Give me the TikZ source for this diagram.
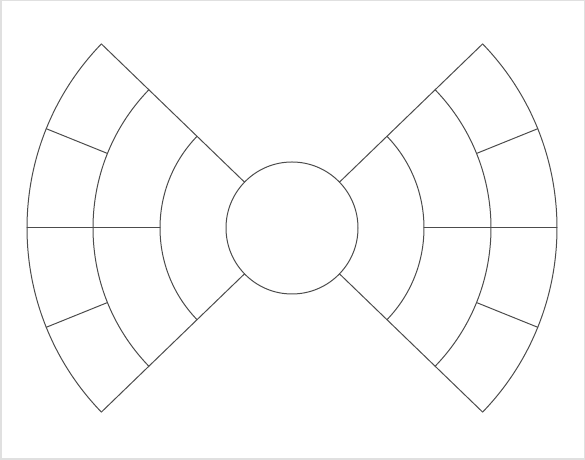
\documentclass[tikz,border=0pt]{standalone}
\usetikzlibrary{calc}
\tikzset{
  fan/.style={
    line width=0.5pt,
    draw=black!70,
    line cap=round,
    line join=round
  },
  frame/.style={draw=black!12, line width=1pt}
}
\begin{document}
\begin{tikzpicture}[x=0.5pt,y=0.5pt]
  \useasboundingbox (0,0) rectangle (585,460);
  \draw[frame] (0.5,0.5) rectangle (584.5,459.5);
  % Bow tie knot
  \coordinate (hub) at (292,232);
  \draw[fan] (hub) circle (66);
  % Rings of both wings
  \foreach \r in {132,199,265} {
    \draw[fan] ($(hub)+(136:\r)$) arc (136:224:\r);
    \draw[fan] ($(hub)+(-44:\r)$) arc (-44:44:\r);
  }
  % Wing edges
  \foreach \a in {136,224,-44,44}
    \draw[fan] ($(hub)+(\a:66)$) -- ($(hub)+(\a:265)$);
  % Splits
  \foreach \a in {180,0}
    \draw[fan] ($(hub)+(\a:132)$) -- ($(hub)+(\a:265)$);
  \foreach \a in {158,202,22,-22}
    \draw[fan] ($(hub)+(\a:199)$) -- ($(hub)+(\a:265)$);
\end{tikzpicture}
\end{document}
